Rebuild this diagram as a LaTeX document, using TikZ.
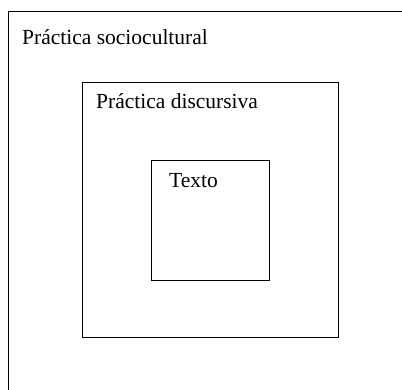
\documentclass[tikz,border=0pt]{standalone}
\usepackage{fontspec}
\setmainfont{Liberation Serif}
\usetikzlibrary{positioning}

\begin{document}
\begin{tikzpicture}[x=1pt, y=-1pt,
    layer/.style={rectangle, draw, line width=1pt, inner sep=0pt, anchor=north west},
    caption/.style={inner sep=0pt, anchor=base west, font=\fontsize{21.5}{26}\selectfont}]

    \useasboundingbox (0,0) rectangle (402,390);
    \clip (0,0) rectangle (402,390);

    %% outer layer, runs off the page
    \node[layer, minimum width=404pt, minimum height=392pt] (social) at (8,11) {};
    \node[layer, minimum width=256pt, minimum height=255pt] (discurso) at (82,82) {};
    \node[layer, minimum width=118pt, minimum height=120pt] (texto) at (151,160) {};

    \node[caption] (sociallbl) at ([shift={(14,33.5)}]social.north west) {Práctica sociocultural};
    \node[caption] (discursolbl) at ([shift={(14,27)}]discurso.north west) {Práctica discursiva};
    \node[caption] (textolbl) at ([shift={(18,28)}]texto.north west) {Texto};

\end{tikzpicture}
\end{document}
